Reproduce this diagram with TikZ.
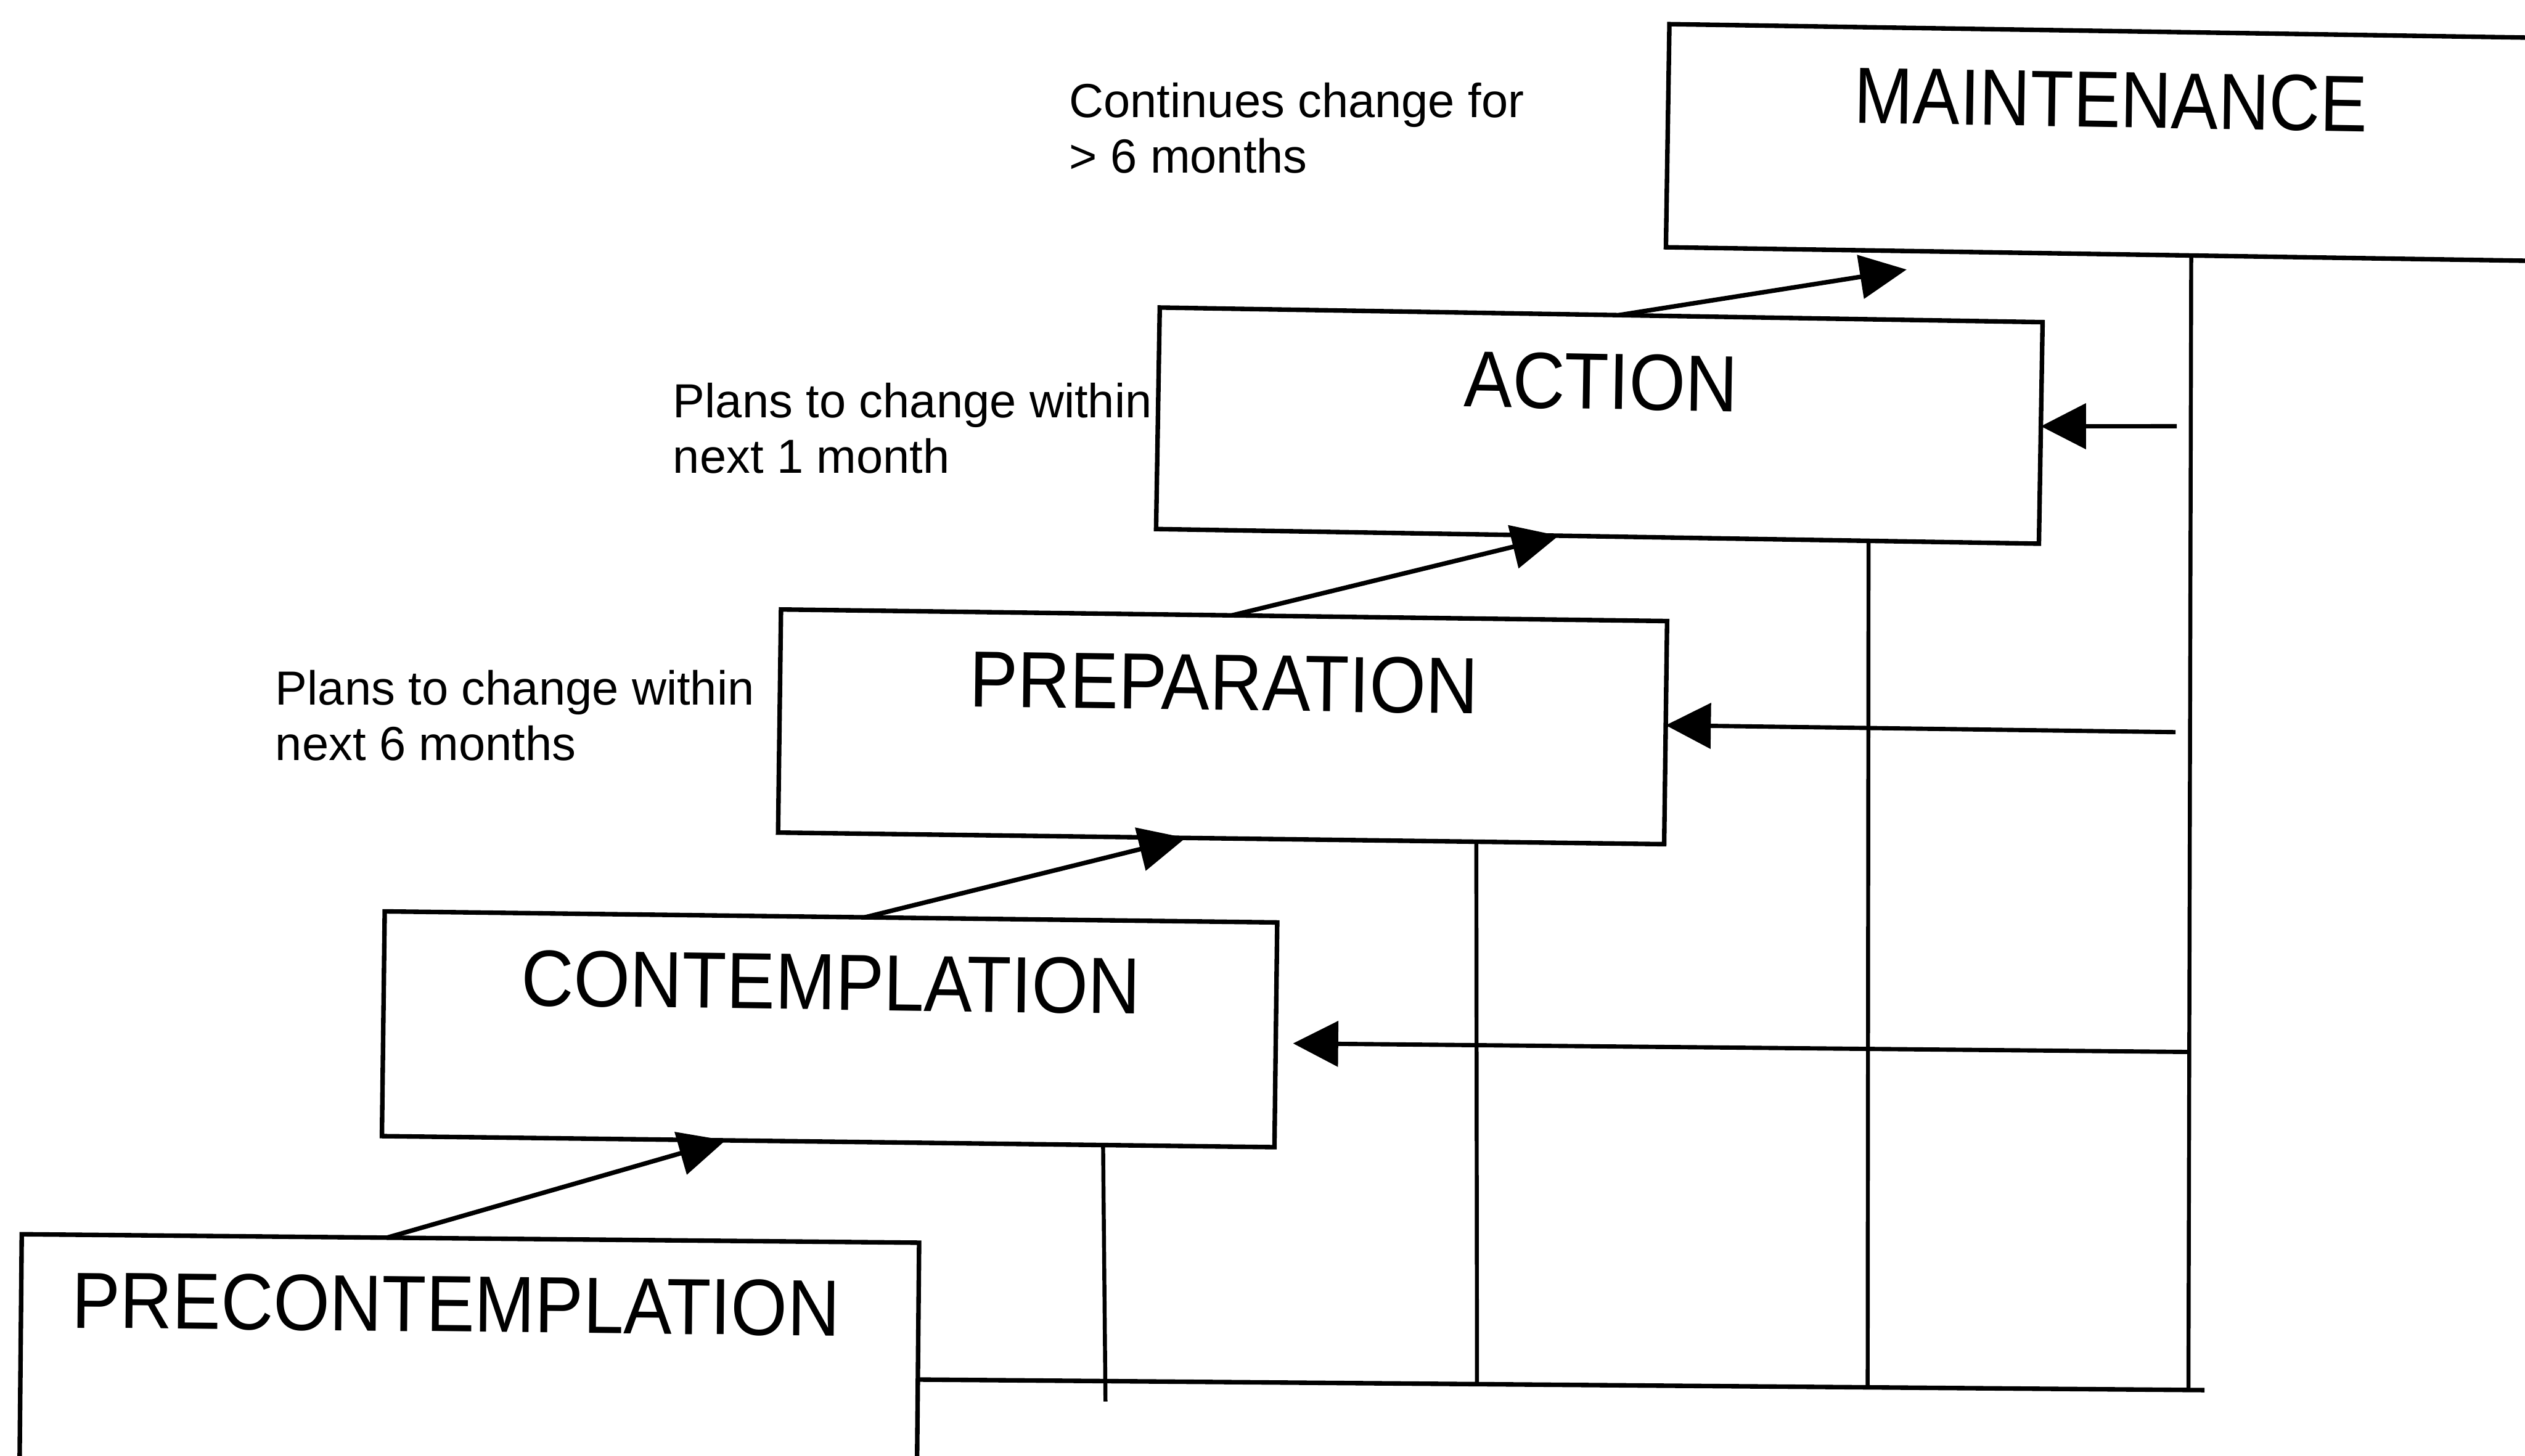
\documentclass[tikz,border=0pt]{standalone}
\usepackage{fontspec}
\setmainfont{Liberation Sans}
\usetikzlibrary{arrows.meta,calc}
\tikzset{
  stage/.style={draw, line width=0.8pt, inner sep=0pt, outer sep=0pt, anchor=north west},
  stagetext/.style={inner sep=0pt, font=\fontsize{12.8}{15}\selectfont, yscale=1.1},
  note/.style={inner sep=0pt, anchor=north west, align=left, font=\fontsize{8.45}{9.8}\selectfont},
  rise/.style={line width=0.8pt, -{Triangle[length=0.29cm, width=0.27cm]}},
  back/.style={line width=0.75pt, -{Triangle[length=0.28cm, width=0.28cm]}},
  fbline/.style={line width=0.7pt},
}
\begin{document}
\begin{tikzpicture}[x=0.01cm, y=-0.01cm]
\useasboundingbox (0,0) rectangle (1568,904);
\clip (0,0) rectangle (1568,904);
% stage boxes
\node[stage, rotate=-0.9, minimum width=5.48cm, minimum height=1.385cm] (maint) at (1036.7,15) {};
\node[stage, rotate=-0.95, minimum width=5.48cm, minimum height=1.375cm] (act) at (720.2,191) {};
\node[stage, rotate=-0.75, minimum width=5.50cm, minimum height=1.385cm] (prep) at (485,378.5) {};
\node[stage, rotate=-0.71, minimum width=5.54cm, minimum height=1.395cm] (con) at (238.9,566) {};
\node[stage, rotate=-0.54, minimum width=5.57cm, minimum height=1.80cm] (pre) at (13.5,766.5) {};
% stage titles
\node[stagetext, rotate=-0.9, xscale=0.972] (tmaint) at ($(maint.north)+(0,42.7)$) {MAINTENANCE};
\node[stagetext, rotate=-0.95] (tact) at ($(act.north)+(0,41.5)$) {ACTION};
\node[stagetext, rotate=-0.75] (tprep) at ($(prep.north)+(0,41.9)$) {PREPARATION};
\node[stagetext, rotate=-0.71] (tcon) at ($(con.north)+(0,40.6)$) {CONTEMPLATION};
\node[stagetext, rotate=-0.54] (tpre) at ($(pre.north)+(-9,40.9)$) {PRECONTEMPLATION};
% notes
\node[note] (n1) at (663.3,50.7) {Continues change for\\> 6 months};
\node[note] (n2) at (417.3,237) {Plans to change within\\next 1 month};
\node[note] (n3) at (170.4,415.6) {Plans to change within\\next 6 months};
% rising arrows
\coordinate (tm) at (1184,167.4);
\draw[rise] ($(pre.north west)!0.407!(pre.north east)$) -- ($(con.south west)!0.385!(con.south east)$);
\draw[rise] ($(con.north west)!0.538!(con.north east)$) -- ($(prep.south west)!0.46!(prep.south east)$);
\draw[rise] ($(prep.north west)!0.509!(prep.north east)$) -- ($(act.south west)!0.456!(act.south east)$);
\draw[rise] ($(act.north west)!0.52!(act.north east)$) -- (tm);
% feedback network
\coordinate (rb) at (1359,862);
\coordinate (be) at (1369,863.3);
\coordinate (ab) at (1159.8,860.8);
\coordinate (pb) at (917.2,859);
\coordinate (cb) at (686.5,870.4);
\draw[fbline] ($(maint.south west)!0.595!(maint.south east)$) -- (rb);
\draw[fbline] ($(act.south west)!0.807!(act.south east)$) -- (ab);
\draw[fbline] ($(prep.south west)!0.788!(prep.south east)$) -- (pb);
\draw[fbline] ($(con.south west)!0.808!(con.south east)$) -- (cb);
\draw[line width=0.8pt] ($(pre.north east)!0.472!(pre.south east)$) -- (be);
\coordinate (sa) at (1351.8,264.7);
\coordinate (sp) at (1351,454.7);
\coordinate (sc) at (1359,653.3);
\coordinate (tc) at (803,648);
\draw[back] (sa) -- ($(act.north east)!0.47!(act.south east)$);
\draw[back] (sp) -- ($(prep.north east)!0.467!(prep.south east)$);
\draw[back] (sc) -- (tc);
\end{tikzpicture}
\end{document}
